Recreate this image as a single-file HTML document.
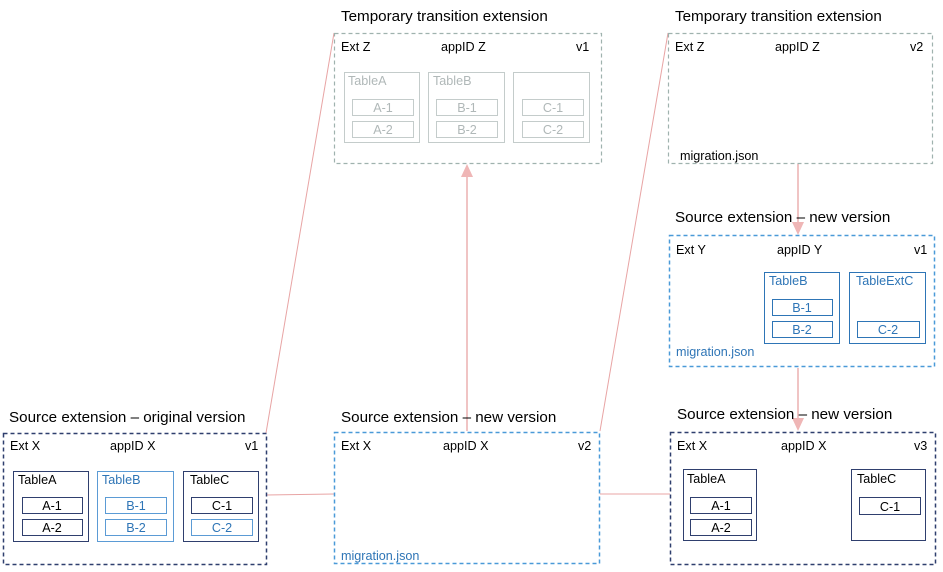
<!DOCTYPE html>
<html><head><meta charset="utf-8"><style>
html,body{margin:0;padding:0;background:#fff;width:943px;height:572px;overflow:hidden}
svg{display:block}
text{font-family:"Liberation Sans",sans-serif}
.t{font-size:15.2px;fill:#000}
.l{font-size:12.6px;fill:#000}
.b{fill:#2e75b6}
.g{fill:#b0b8b8}
</style></head><body>
<svg width="943" height="572" viewBox="0 0 943 572" xmlns="http://www.w3.org/2000/svg">
<!-- connectors -->
<g stroke="#e8a4a4" stroke-width="1" fill="none">
<line x1="266" y1="495" x2="334" y2="494"/>
<line x1="600" y1="494" x2="670" y2="494"/>
<line x1="266" y1="433" x2="334" y2="33"/>
<line x1="600" y1="431" x2="668" y2="33"/>
</g>
<g stroke="#f0c4c4" stroke-width="2" fill="none">
<line x1="467" y1="431" x2="467" y2="176"/>
<line x1="798" y1="164" x2="798" y2="224"/>
<line x1="798" y1="368" x2="798" y2="420"/>
</g>
<g fill="#efb6b6">
<path d="M461,177 L473,177 L467,164 z"/>
<path d="M792,222 L804,222 L798,235 z"/>
<path d="M792,418 L804,418 L798,431 z"/>
</g>

<!-- Box1 bottom-left -->
<text class="t" x="9" y="422">Source extension – original version</text>
<rect x="3.5" y="433.5" width="263" height="131" fill="none" stroke="#2f3f6e" stroke-width="1.5" stroke-dasharray="4,3"/>
<text class="l" x="10" y="450">Ext X</text><text class="l" x="110" y="450">appID X</text><text class="l" x="245" y="450">v1</text>
<g fill="none" stroke="#2f3f6e">
<rect x="13.5" y="471.5" width="75" height="70"/>
<rect x="22.5" y="497.5" width="60" height="16"/><rect x="22.5" y="519.5" width="60" height="16"/>
<rect x="183.5" y="471.5" width="75" height="70"/>
<rect x="191.5" y="497.5" width="61" height="16"/>
</g>
<g fill="none" stroke="#5b9bd5">
<rect x="97.5" y="471.5" width="76" height="70"/>
<rect x="105.5" y="497.5" width="61" height="16"/><rect x="105.5" y="519.5" width="61" height="16"/>
<rect x="191.5" y="519.5" width="61" height="16"/>
</g>
<text class="l" x="18" y="484">TableA</text>
<text class="l b" x="102" y="484">TableB</text>
<text class="l" x="190" y="484">TableC</text>
<g text-anchor="middle">
<text class="l" x="52" y="510">A-1</text><text class="l" x="52" y="532">A-2</text>
<text class="l b" x="136" y="510">B-1</text><text class="l b" x="136" y="532">B-2</text>
<text class="l" x="222" y="510">C-1</text><text class="l b" x="222" y="532">C-2</text>
</g>

<!-- Box2 bottom-middle -->
<text class="t" x="341" y="422">Source extension –  new version</text>
<rect x="334.5" y="432.5" width="265" height="131" fill="none" stroke="#4a9ad8" stroke-width="1.5" stroke-dasharray="4,3"/>
<text class="l" x="341" y="450">Ext X</text><text class="l" x="443" y="450">appID X</text><text class="l" x="578" y="450">v2</text>
<text class="l b" x="341" y="560">migration.json</text>

<!-- Box3 bottom-right -->
<text class="t" x="677" y="419">Source extension –  new version</text>
<rect x="670.5" y="432.5" width="265" height="132" fill="none" stroke="#2f3f6e" stroke-width="1.5" stroke-dasharray="4,3"/>
<text class="l" x="677" y="450">Ext X</text><text class="l" x="781" y="450">appID X</text><text class="l" x="914" y="450">v3</text>
<g fill="none" stroke="#2f3f6e">
<rect x="683.5" y="469.5" width="73" height="71"/>
<rect x="690.5" y="497.5" width="61" height="16"/><rect x="690.5" y="519.5" width="61" height="16"/>
<rect x="851.5" y="469.5" width="74" height="71"/>
<rect x="859.5" y="497.5" width="61" height="17"/>
</g>
<text class="l" x="687" y="483">TableA</text><text class="l" x="857" y="483">TableC</text>
<g text-anchor="middle">
<text class="l" x="721" y="510">A-1</text><text class="l" x="721" y="532">A-2</text>
<text class="l" x="890" y="511">C-1</text>
</g>

<!-- Top middle -->
<text class="t" x="341" y="21">Temporary transition extension</text>
<rect x="334.5" y="33.5" width="267" height="130" fill="none" stroke="#9fb2ae" stroke-width="1.2" stroke-dasharray="4,3"/>
<text class="l" x="341" y="51">Ext Z</text><text class="l" x="441" y="51">appID Z</text><text class="l" x="576" y="51">v1</text>
<g fill="none" stroke="#c4cccb">
<rect x="344.5" y="72.5" width="75" height="70"/>
<rect x="352.5" y="99.5" width="61" height="16"/><rect x="352.5" y="121.5" width="61" height="16"/>
<rect x="428.5" y="72.5" width="76" height="70"/>
<rect x="436.5" y="99.5" width="61" height="16"/><rect x="436.5" y="121.5" width="61" height="16"/>
<rect x="513.5" y="72.5" width="76" height="70"/>
<rect x="522.5" y="99.5" width="61" height="16"/><rect x="522.5" y="121.5" width="61" height="16"/>
</g>
<text class="l g" x="348" y="85">TableA</text><text class="l g" x="433" y="85">TableB</text>
<g text-anchor="middle">
<text class="l g" x="383" y="112">A-1</text><text class="l g" x="383" y="134">A-2</text>
<text class="l g" x="467" y="112">B-1</text><text class="l g" x="467" y="134">B-2</text>
<text class="l g" x="553" y="112">C-1</text><text class="l g" x="553" y="134">C-2</text>
</g>

<!-- Top right -->
<text class="t" x="675" y="21">Temporary transition extension</text>
<rect x="668.5" y="33.5" width="264" height="130" fill="none" stroke="#9fb2ae" stroke-width="1.2" stroke-dasharray="4,3"/>
<text class="l" x="675" y="51">Ext Z</text><text class="l" x="775" y="51">appID Z</text><text class="l" x="910" y="51">v2</text>
<text class="l" x="680" y="160">migration.json</text>

<!-- Ext Y -->
<text class="t" x="675" y="222">Source extension – new version</text>
<rect x="669.5" y="235.5" width="265" height="131" fill="none" stroke="#4a9ad8" stroke-width="1.5" stroke-dasharray="4,3"/>
<text class="l" x="676" y="254">Ext Y</text><text class="l" x="777" y="254">appID Y</text><text class="l" x="914" y="254">v1</text>
<g fill="none" stroke="#2e75b6">
<rect x="764.5" y="272.5" width="75" height="71"/>
<rect x="772.5" y="299.5" width="60" height="16"/><rect x="772.5" y="321.5" width="60" height="16"/>
<rect x="849.5" y="272.5" width="76" height="71"/>
<rect x="857.5" y="321.5" width="62" height="16"/>
</g>
<text class="l b" x="769" y="285">TableB</text><text class="l b" x="856" y="285">TableExtC</text>
<g text-anchor="middle">
<text class="l b" x="802" y="312">B-1</text><text class="l b" x="802" y="334">B-2</text>
<text class="l b" x="888" y="334">C-2</text>
</g>
<text class="l b" x="676" y="356">migration.json</text>
</svg>
</body></html>
